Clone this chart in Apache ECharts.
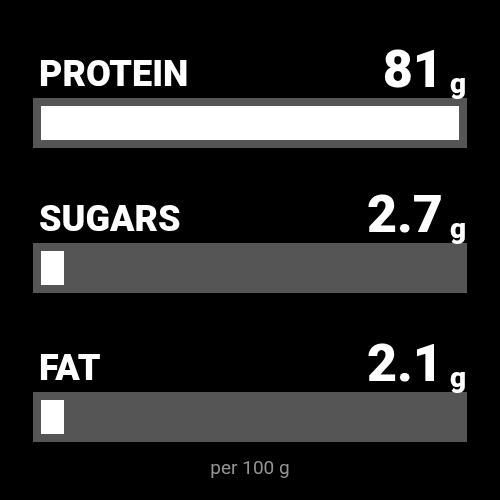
<!DOCTYPE html>
<html>
<head>
<meta charset="utf-8">
<title>Nutrition per 100 g</title>
<script src="https://cdn.jsdelivr.net/npm/echarts@6/dist/echarts.min.js"></script>
<style>
    html, body { margin: 0; padding: 0; background: #000; }
    #nutrition { width: 500px; height: 500px; }
</style>
</head>
<body>
<div id="nutrition"></div>
<script>
// data
var names = ['PROTEIN', 'SUGARS', 'FAT'];
var values = [81, 2.7, 2.1];
var unit = 'g';
var scaleMax = 81;
var footnote = 'per 100 g';

(function () {
    var myChart = echarts.init(document.getElementById('nutrition'));

    var rowTops = [98, 243, 392];   // top of each gray track
    var pad = 8;                    // track inset around the fill
    var minFill = 23;               // small values still show a visible stub

    function renderRow(params, api) {
        var i = params.seriesIndex;
        var v = api.value(0);
        var origin = api.coord([0, 0]);
        var full = api.coord([scaleMax, 0]);
        var tip = api.coord([v, 0]);
        var band = api.size([0, 1])[1];
        var top = origin[1] - band / 2;
        var trackTop = top - pad;
        var baseline = trackTop - 11;
        return {
            type: 'group',
            children: [
                {
                    type: 'rect',
                    shape: { x: origin[0] - pad, y: trackTop, width: full[0] - origin[0] + 2 * pad, height: band + 2 * pad },
                    style: { fill: '#555555' }
                },
                {
                    type: 'rect',
                    shape: { x: origin[0], y: top, width: Math.max(tip[0] - origin[0], minFill), height: band },
                    style: { fill: '#ffffff' }
                },
                {
                    type: 'text',
                    x: origin[0] - 2,
                    y: baseline - 10,
                    style: {
                        text: names[i],
                        fill: '#ffffff',
                        fontFamily: 'Roboto',
                        fontWeight: 900,
                        fontSize: 36,
                        align: 'left',
                        verticalAlign: 'middle'
                    }
                },
                {
                    type: 'text',
                    x: full[0] + pad - 1,
                    y: baseline - 13,
                    style: {
                        text: '{v|' + v + '}{u| ' + unit + '}',
                        align: 'right',
                        verticalAlign: 'middle',
                        rich: {
                            v: { fill: '#ffffff', fontFamily: 'Roboto', fontWeight: 900, fontSize: 52, lineHeight: 52, verticalAlign: 'bottom' },
                            u: { fill: '#ffffff', fontFamily: 'Roboto', fontWeight: 900, fontSize: 28, lineHeight: 48, verticalAlign: 'bottom' }
                        }
                    }
                }
            ]
        };
    }

    var grids = [], xAxes = [], yAxes = [], series = [];
    for (var i = 0; i < names.length; i++) {
        grids.push({ left: 41, right: 41, top: rowTops[i] + pad, height: 34 });
        xAxes.push({ type: 'value', gridIndex: i, min: 0, max: scaleMax, show: false });
        yAxes.push({ type: 'category', gridIndex: i, data: [names[i]], show: false });
        series.push({
            type: 'custom',
            xAxisIndex: i,
            yAxisIndex: i,
            silent: true,
            renderItem: renderRow,
            encode: { x: 0, y: 1 },
            data: [[values[i], names[i]]]
        });
    }

    var option = {
        backgroundColor: '#000000',
        animation: false,
        title: {
            text: footnote,
            left: 'center',
            top: 460,
            padding: 0,
            textStyle: { color: '#959595', fontFamily: 'Roboto', fontWeight: 'normal', fontSize: 19 }
        },
        grid: grids,
        xAxis: xAxes,
        yAxis: yAxes,
        series: series
    };

    myChart.setOption(option);
    window.addEventListener('resize', function () {
        myChart.resize();
    });
})();
</script>
</body>
</html>
